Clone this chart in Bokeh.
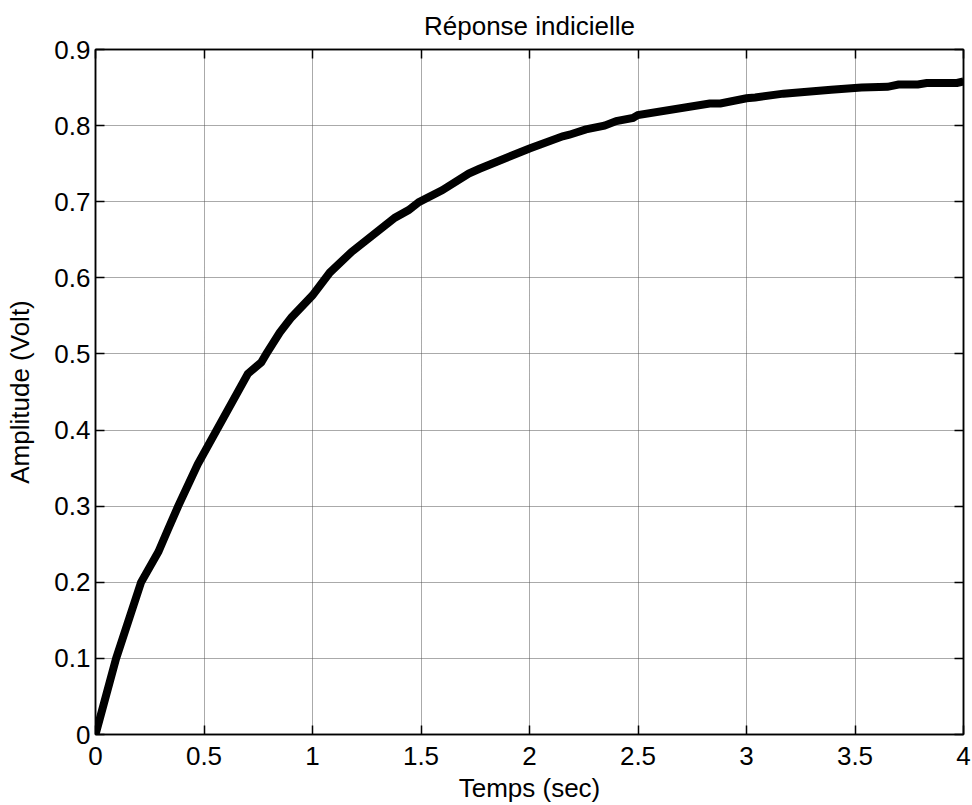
from bokeh.plotting import figure
from bokeh.models import Range1d, LinearAxis, FixedTicker
from bokeh.embed import file_html
from bokeh.resources import INLINE

# Step response
t_sec = [0, 0.095, 0.21, 0.29, 0.332, 0.381, 0.471, 0.702, 0.764, 0.787, 0.849,
         0.903, 1.0, 1.08, 1.18, 1.38, 1.443, 1.49, 1.597, 1.72, 1.767, 2.0, 2.153,
         2.184, 2.26, 2.345, 2.4, 2.477, 2.5, 2.83, 2.88, 3.0, 3.04, 3.17, 3.39, 3.53,
         3.65, 3.70, 3.79, 3.83, 3.97, 4.0]
amplitude = [0, 0.1, 0.2, 0.24, 0.268, 0.3, 0.355, 0.474, 0.489, 0.5, 0.528,
             0.548, 0.577, 0.607, 0.634, 0.679, 0.689, 0.6995, 0.715, 0.737, 0.743, 0.770, 0.786,
             0.788, 0.795, 0.800, 0.806, 0.810, 0.814, 0.829, 0.829, 0.836, 0.837, 0.842, 0.847, 0.850,
             0.851, 0.854, 0.854, 0.856, 0.856, 0.858]

x_ticks = [0, 0.5, 1, 1.5, 2, 2.5, 3, 3.5, 4]
x_tick_labels = ["0", "0.5", "1", "1.5", "2", "2.5", "3", "3.5", "4"]
y_ticks = [0, 0.1, 0.2, 0.3, 0.4, 0.5, 0.6, 0.7, 0.8, 0.9]
y_tick_labels = ["0", "0.1", "0.2", "0.3", "0.4", "0.5", "0.6", "0.7", "0.8", "0.9"]

FONT = "Liberation Sans"
FS = "26px"

p = figure(width=972, height=805, output_backend="svg", toolbar_location=None,
           x_range=Range1d(0, 4), y_range=Range1d(0, 0.9),
           title="Réponse indicielle",
           x_axis_label="Temps (sec)", y_axis_label="Amplitude (Volt)",
           min_border_left=95, min_border_right=9, min_border_top=49, min_border_bottom=71)

p.background_fill_color = "white"
p.border_fill_color = "white"
p.outline_line_color = "black"
p.outline_line_width = 1.5

p.title.align = "center"
p.title.text_font = FONT
p.title.text_font_size = FS
p.title.text_font_style = "normal"
p.title.text_color = "black"
p.title.standoff = 17

def style_axis(ax, labels=True):
    ax.axis_line_color = "black"
    ax.axis_line_width = 1.5
    ax.major_tick_in = 9
    ax.major_tick_out = 0
    ax.major_tick_line_color = "black"
    ax.major_tick_line_width = 1.5
    ax.minor_tick_line_color = None
    ax.major_label_text_font = FONT
    ax.major_label_text_color = "black"
    if labels:
        ax.major_label_text_font_size = FS
    else:
        ax.major_label_text_font_size = "0px"
        ax.major_label_standoff = 0

xa = p.xaxis[0]
ya = p.yaxis[0]
xa.ticker = FixedTicker(ticks=x_ticks)
ya.ticker = FixedTicker(ticks=y_ticks)
xa.major_label_overrides = dict(zip(x_ticks, x_tick_labels))
ya.major_label_overrides = dict(zip(y_ticks, y_tick_labels))
style_axis(xa)
style_axis(ya)
xa.major_label_standoff = 12
ya.major_label_standoff = 5
for ax in (xa, ya):
    ax.axis_label_text_font = FONT
    ax.axis_label_text_font_size = FS
    ax.axis_label_text_font_style = "normal"
    ax.axis_label_text_color = "black"
xa.axis_label_standoff = 5
ya.axis_label_standoff = 16

top = LinearAxis(ticker=FixedTicker(ticks=x_ticks))
right = LinearAxis(ticker=FixedTicker(ticks=y_ticks))
style_axis(top, labels=False)
style_axis(right, labels=False)
p.add_layout(top, "above")
p.add_layout(right, "right")

p.xgrid.ticker = FixedTicker(ticks=x_ticks)
p.ygrid.ticker = FixedTicker(ticks=y_ticks)
for g in (p.xgrid[0], p.ygrid[0]):
    g.grid_line_color = "#555555"
    g.grid_line_dash = "1 1"
    g.grid_line_width = 1

p.line(t_sec, amplitude, line_color="black", line_width=8, line_join="miter")

open("out.html", "w").write(file_html(p, INLINE))
